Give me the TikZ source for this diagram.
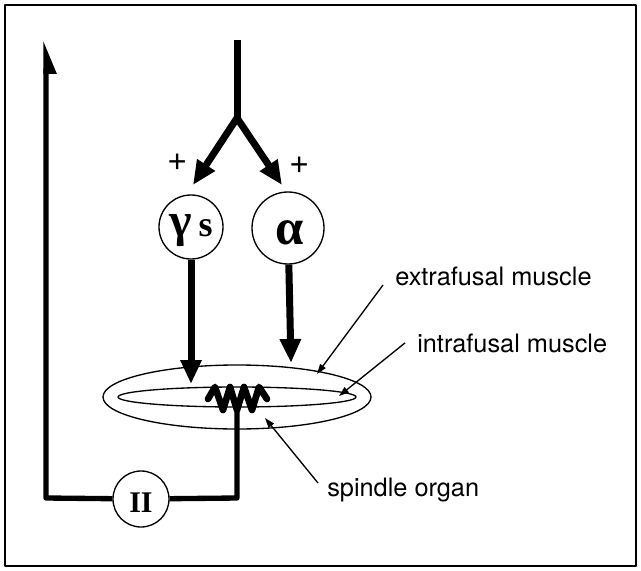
\documentclass[tikz,border=0pt]{standalone}
\usepackage{fontspec}
\setmainfont{TeX Gyre Heros}
\newfontfamily\greekfont{Liberation Serif}
\usetikzlibrary{arrows.meta,calc}

\tikzset{
  neuron/.style={draw,circle,line width=1pt,inner sep=0pt},
  efferent/.style={line width=5.25pt},
  feedback/.style={line width=4pt,line join=round},
  leader/.style={line width=1pt,-{Triangle[length=7.5pt,width=5pt]}},
  lbl/.style={inner sep=0pt,font=\fontsize{19}{22}\selectfont},
}

\begin{document}
\begin{tikzpicture}[x=0.75pt,y=-0.75pt,line join=round,>={Triangle[length=18pt,width=15pt]}]
  % Match the artwork frame.
  \useasboundingbox (0,0) rectangle (641,570);
  \draw[line width=1.5pt] (5,5) rectangle (636,566);

  % Motor neurons and the group II afferent.
  \node[neuron,minimum size=48pt] (gamma) at (191,227)
    {\raisebox{-6.75pt}[0pt][0pt]{\greekfont\bfseries\fontsize{36}{36}\selectfont γ\kern5pt\fontsize{27}{27}\selectfont s}};
  \node[neuron,minimum size=54pt] (alpha) at (288,228)
    {\raisebox{-12.75pt}[0pt][0pt]{\kern3pt\greekfont\bfseries\fontsize{38}{38}\selectfont α}};
  \node[neuron,minimum size=42pt] (two) at (141,499)
    {\raisebox{-10pt}[0pt][0pt]{\greekfont\bfseries\fontsize{22.5}{22.5}\selectfont II}};

  % Descending drive splits into both neurons.
  \coordinate (top) at (237,40);
  \coordinate (fork) at (237,118);
  \coordinate (gtip) at (193,185);
  \coordinate (atip) at (282,185);
  \draw[efferent] (top) -- (fork);
  \draw[efferent,line join=miter,<->] (gtip) -- (fork) -- (atip);
  \node[lbl,font=\fontsize{26}{26}\selectfont] (gplus) at (178,162) {+};
  \node[lbl,font=\fontsize{26}{26}\selectfont] (aplus) at (300,165) {+};

  % Efferents onto the muscle.
  \coordinate (gend) at (191,384);
  \coordinate (aend) at (291,363);
  \draw[efferent,->] (gamma) -- (gend);
  \draw[efferent,->] (alpha) -- (aend);

  % Extrafusal and intrafusal muscle.
  \draw[line width=1pt] (237,397) ellipse [x radius=134, y radius=32];
  \draw[line width=1pt] (237,397) ellipse [x radius=119, y radius=10];

  % Spindle organ.
  \draw[line width=5pt,line cap=round] (208,399) -- (215,387) -- (223,410) -- (230,387)
    -- (237,410) -- (244,387) -- (252,410) -- (259,387) -- (267,399);
  \coordinate (spring) at (237,410);

  % Feedback loop back up.
  \coordinate (fbr) at (237,498);
  \coordinate (fbl) at (46,498);
  \coordinate (fbtop) at (46,40);
  \draw[feedback] (spring) -- (fbr) -- (two);
  \draw[feedback,-{Triangle[harpoon,swap,length=20pt,width=15pt]}] (two) -- (fbl) -- (fbtop);

  % Labels with leaders.
  \node[lbl,anchor=base west] (extra) at (395,285) {extrafusal muscle};
  \node[lbl,anchor=base west] (intra) at (417,352) {intrafusal muscle};
  \node[lbl,anchor=base west] (spindle) at (327,496) {spindle organ};
  \coordinate (extip) at (317,374);
  \coordinate (intip) at (339,396);
  \coordinate (sptip) at (265,418);
  \draw[leader] ($(extra.base west)+(-12,0)$) -- (extip);
  \draw[leader] ($(intra.west)+(-12,0)$) -- (intip);
  \draw[leader] ($(spindle.base west)+(-9,-13)$) -- (sptip);
\end{tikzpicture}
\end{document}
